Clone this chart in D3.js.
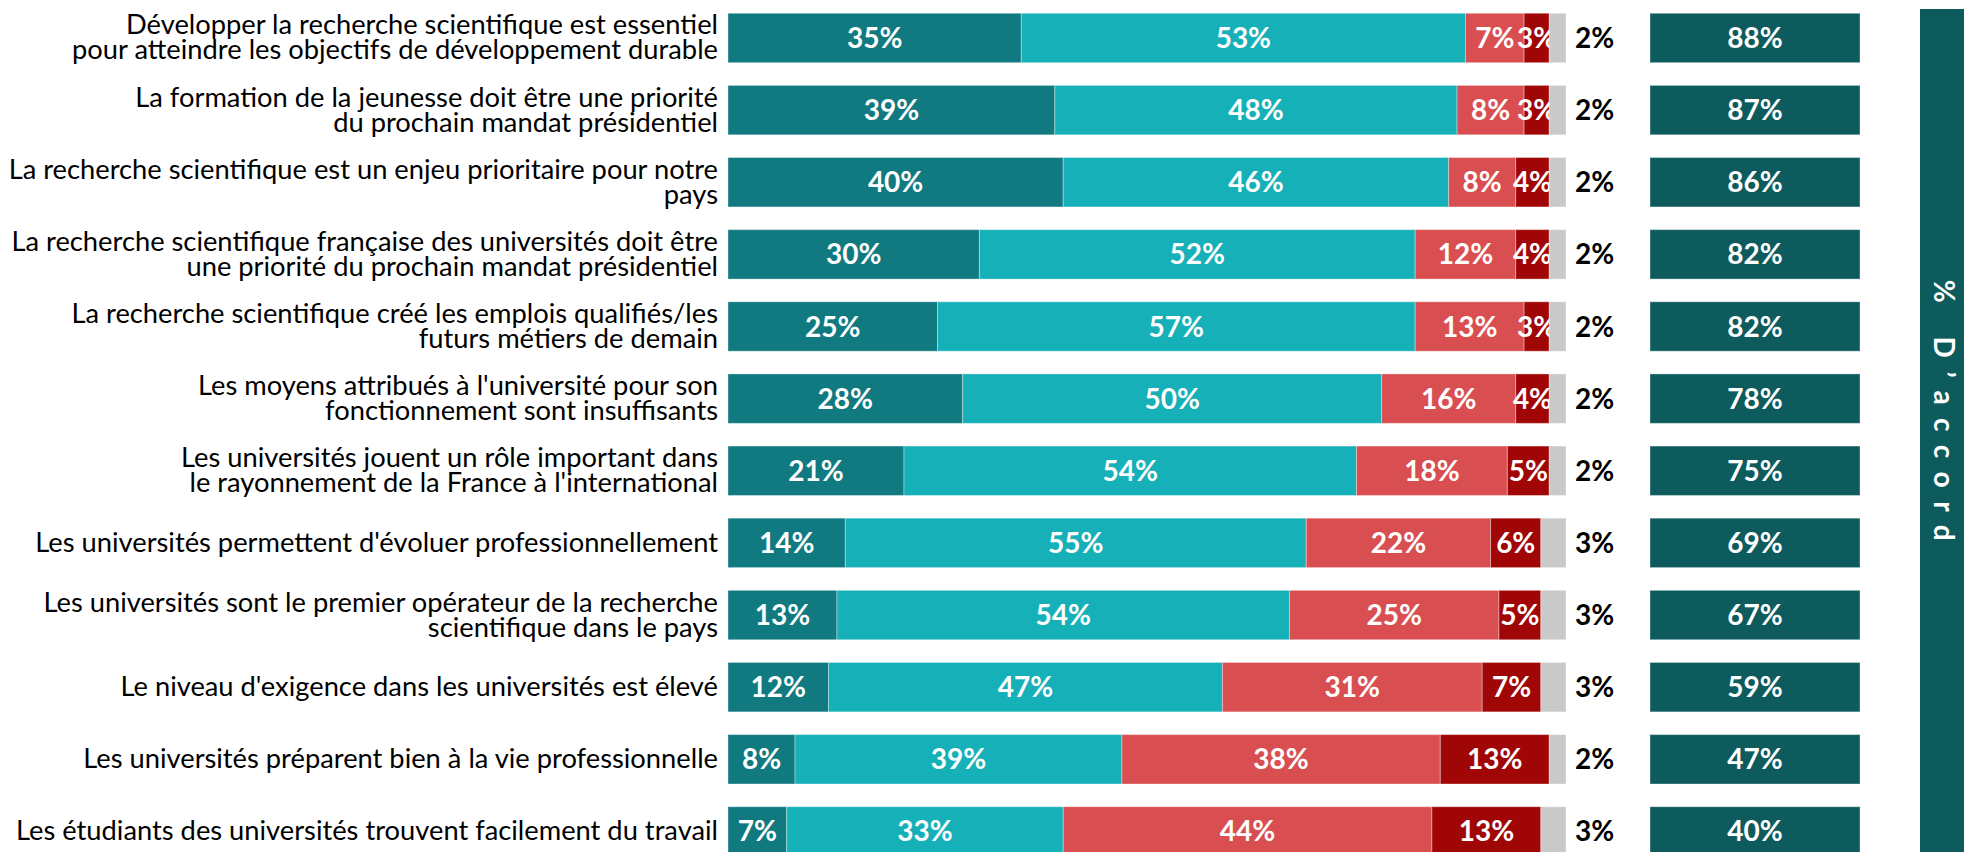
<!DOCTYPE html>
<html>
<head>
<meta charset="utf-8">
<script src="https://cdnjs.cloudflare.com/ajax/libs/d3/7.8.5/d3.min.js"></script>
<style>
    html, body { margin: 0; padding: 0; background: #ffffff; }
    svg { display: block; }
</style>
</head>
<body>
<div id="chart"></div>
<script>
"use strict";

// libellés (une entrée par ligne, les retours à la ligne sont ceux du visuel)
const categories = [
    ["Développer la recherche scientifique est essentiel", "pour atteindre les objectifs de développement durable"],
    ["La formation de la jeunesse doit être une priorité", "du prochain mandat présidentiel"],
    ["La recherche scientifique est un enjeu prioritaire pour notre", "pays"],
    ["La recherche scientifique française des universités doit être", "une priorité du prochain mandat présidentiel"],
    ["La recherche scientifique créé les emplois qualifiés/les", "futurs métiers de demain"],
    ["Les moyens attribués à l'université pour son", "fonctionnement sont insuffisants"],
    ["Les universités jouent un rôle important dans", "le rayonnement de la France à l'international"],
    ["Les universités permettent d'évoluer professionnellement"],
    ["Les universités sont le premier opérateur de la recherche", "scientifique dans le pays"],
    ["Le niveau d'exigence dans les universités est élevé"],
    ["Les universités préparent bien à la vie professionnelle"],
    ["Les étudiants des universités trouvent facilement du travail"]
];

const toutAFaitDaccord   = [35, 39, 40, 30, 25, 28, 21, 14, 13, 12, 8, 7];
const plutotDaccord      = [53, 48, 46, 52, 57, 50, 54, 55, 54, 47, 39, 33];
const plutotPasDaccord   = [7, 8, 8, 12, 13, 16, 18, 22, 25, 31, 38, 44];
const pasDuToutDaccord   = [3, 3, 4, 4, 3, 4, 5, 6, 5, 7, 13, 13];
const nsp                = [2, 2, 2, 2, 2, 2, 2, 3, 3, 3, 2, 3];
const totalDaccord       = [88, 87, 86, 82, 82, 78, 75, 69, 67, 59, 47, 40];

const seriesKeys = ["tout", "plutot", "plutotPas", "pasDuTout", "nsp"];
const seriesColors = ["#107a80", "#15b0b8", "#d94f51", "#a00606", "#c9c9c9"];
const bandTitle = "% D’accord";

const width = 1964, height = 852;

const svg = d3.select("#chart").append("svg")
    .attr("width", width)
    .attr("height", height);

// table for the stack
const rows = categories.map((c, i) => ({
    idx: i,
    tout: toutAFaitDaccord[i],
    plutot: plutotDaccord[i],
    plutotPas: plutotPasDaccord[i],
    pasDuTout: pasDuToutDaccord[i],
    nsp: nsp[i],
    total: totalDaccord[i]
}));

const scaleX = d3.scaleLinear().domain([0, 100]).range([728, 1566]);
const scaleY = d3.scaleBand()
    .domain(d3.range(categories.length))
    .range([1.9, 867.5])
    .paddingInner(0.315)
    .paddingOuter(0.1575);
const color = d3.scaleOrdinal().domain(seriesKeys).range(seriesColors);

const stacked = d3.stack().keys(seriesKeys)(rows);

// barres empilées
const layers = svg.append("g")
    .selectAll("g.layer")
    .data(stacked)
    .join("g")
    .attr("class", "layer")
    .attr("fill", d => color(d.key));

layers.selectAll("rect")
    .data(d => d)
    .join("rect")
    .attr("x", d => scaleX(d[0]))
    .attr("y", (d, i) => scaleY(i))
    .attr("width", d => scaleX(d[1]) - scaleX(d[0]))
    .attr("height", scaleY.bandwidth())
    .attr("stroke", "#ffffff")
    .attr("stroke-opacity", 0.35)
    .attr("stroke-width", 1);

// valeurs dans les barres (sauf NSP)
layers.filter(d => d.key !== "nsp")
    .selectAll("text")
    .data(d => d)
    .join("text")
    .attr("x", d => (scaleX(d[0]) + scaleX(d[1])) / 2)
    .attr("y", (d, i) => scaleY(i) + scaleY.bandwidth() / 2 + 10)
    .attr("text-anchor", "middle")
    .attr("fill", "#ffffff")
    .style("font-family", "Lato, sans-serif")
    .style("font-weight", "bold")
    .style("font-size", "28px")
    .text(d => (d[1] - d[0]) + "%");

// NSP à droite de la barre
svg.append("g")
    .selectAll("text")
    .data(rows)
    .join("text")
    .attr("x", scaleX(100) + 9)
    .attr("y", d => scaleY(d.idx) + scaleY.bandwidth() / 2 + 10)
    .attr("fill", "#000000")
    .style("font-family", "Lato, sans-serif")
    .style("font-weight", "bold")
    .style("font-size", "28px")
    .text(d => d.nsp + "%");

// libellés des items
const labels = svg.append("g")
    .selectAll("text")
    .data(rows)
    .join("text")
    .attr("text-anchor", "end")
    .attr("fill", "#000000")
    .style("font-family", "Lato, sans-serif")
    .style("font-size", "27.3px");

labels.each(function(d) {
    const lines = categories[d.idx];
    const cy = scaleY(d.idx) + scaleY.bandwidth() / 2;
    const node = d3.select(this);
    lines.forEach((line, j) => {
        let y = cy + 9;
        if (lines.length === 2) y = (j === 0) ? cy - 3.5 : cy + 21.5;
        node.append("tspan")
            .attr("x", 718)
            .attr("y", y)
            .text(line);
    });
});

// colonne % D'accord
const totals = svg.append("g");
totals.selectAll("rect")
    .data(rows)
    .join("rect")
    .attr("x", 1650)
    .attr("y", d => scaleY(d.idx))
    .attr("width", 210)
    .attr("height", scaleY.bandwidth())
    .attr("fill", "#0e5b5d")
    .attr("stroke", "#ffffff")
    .attr("stroke-opacity", 0.35);

totals.selectAll("text")
    .data(rows)
    .join("text")
    .attr("x", 1755)
    .attr("y", d => scaleY(d.idx) + scaleY.bandwidth() / 2 + 10)
    .attr("text-anchor", "middle")
    .attr("fill", "#ffffff")
    .style("font-family", "Lato, sans-serif")
    .style("font-weight", "bold")
    .style("font-size", "28px")
    .text(d => d.total + "%");

// bandeau vertical
svg.append("rect")
    .attr("x", 1920)
    .attr("y", 9)
    .attr("width", 50)
    .attr("height", height)
    .attr("fill", "#0e5b5d");

svg.append("text")
    .attr("transform", "translate(1945, 417) rotate(90)")
    .attr("text-anchor", "middle")
    .attr("dominant-baseline", "central")
    .attr("fill", "#ffffff")
    .style("font-family", "Lato, sans-serif")
    .style("font-weight", "bold")
    .style("font-size", "28px")
    .style("letter-spacing", "13.5px")
    .text(bandTitle);
</script>
</body>
</html>
